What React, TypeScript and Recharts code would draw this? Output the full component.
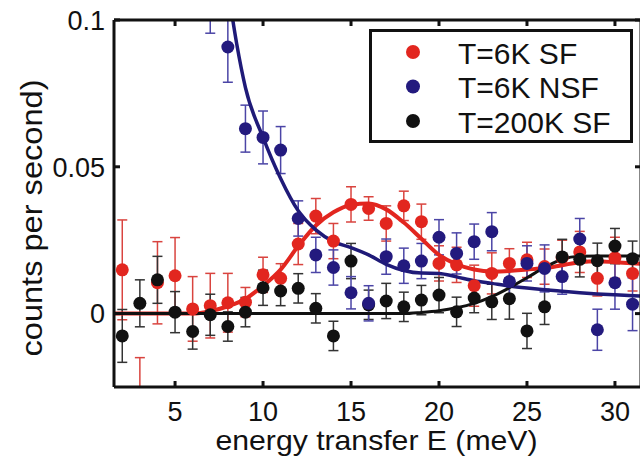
import { ComposedChart, Scatter, Line, XAxis, YAxis, ErrorBar } from "recharts";

const FONT = '"Liberation Sans", Arial, Helvetica, sans-serif';

// measured points (meV, counts/s)
const energy = [2, 3, 4, 5, 6, 7, 8, 9, 10, 11, 12, 13, 14, 15, 16, 17, 18, 19, 20, 21, 22, 23, 24, 25, 26, 27, 28, 29, 30, 31];

const sf6Value = [0.0149, -0.032, 0.0105, 0.0129, 0.0016, 0.0027, 0.0037, 0.0039, 0.0132, 0.012, 0.0237, 0.0332, 0.0247, 0.0372, 0.0358, 0.0307, 0.0367, 0.0313, 0.0171, 0.0166, 0.0095, 0.0137, 0.0171, 0.0183, 0.016, 0.019, 0.021, 0.012, 0.019, 0.0137];
const sf6Err = [0.017, 0.017, 0.014, 0.013, 0.011, 0.011, 0.01, 0.005, 0.006, 0.005, 0.007, 0.006, 0.006, 0.006, 0.004, 0.006, 0.005, 0.006, 0.006, 0.006, 0.007, 0.007, 0.005, 0.006, 0.006, 0.006, 0.007, 0.006, 0.007, 0.006];

const nsfEnergy = [7, 8, 9, 10, 11, 12, 13, 14, 15, 16, 17, 18, 19, 20, 21, 22, 23, 24, 25, 26, 27, 28, 29, 30, 31];
const nsfValue = [0.108, 0.0908, 0.063, 0.06, 0.0557, 0.0324, 0.02, 0.0157, 0.0071, 0.0035, 0.0194, 0.0163, 0.0179, 0.026, 0.0205, 0.0245, 0.0279, 0.0109, 0.0171, 0.0154, 0.0126, 0.0254, -0.0055, 0.0105, 0.0032];
const nsfErr = [0.0125, 0.012, 0.008, 0.009, 0.008, 0.006, 0.006, 0.006, 0.0055, 0.006, 0.006, 0.006, 0.006, 0.006, 0.007, 0.006, 0.0065, 0.006, 0.006, 0.008, 0.006, 0.007, 0.007, 0.009, 0.009];

const sf200Value = [-0.0076, 0.0035, 0.0115, 0.0005, -0.0061, -0.0004, -0.0044, 0.0005, 0.0088, 0.0077, 0.0086, 0.0018, -0.0076, 0.0179, 0.003, 0.0043, 0.0023, 0.0046, 0.0063, 0.0006, 0.0053, 0.004, 0.0051, -0.0059, 0.0023, 0.0193, 0.0185, 0.018, 0.023, 0.0187];
const sf200Err = [0.009, 0.008, 0.008, 0.007, 0.006, 0.007, 0.005, 0.005, 0.006, 0.005, 0.005, 0.005, 0.005, 0.006, 0.005, 0.006, 0.005, 0.005, 0.006, 0.005, 0.005, 0.006, 0.007, 0.006, 0.006, 0.006, 0.006, 0.006, 0.006, 0.006];

// fitted curves
const sf6FitE = [1.53, 6, 7, 8, 9, 10, 11, 12, 13, 14, 15, 16, 17, 18, 19, 20, 21, 22, 23, 24, 25, 26, 27, 28, 29, 30, 31.48];
const sf6FitV = [0, 0, 0.0008, 0.0025, 0.005, 0.0095, 0.015, 0.023, 0.03, 0.0345, 0.037, 0.0375, 0.0355, 0.031, 0.0255, 0.02, 0.0168, 0.015, 0.0143, 0.0145, 0.015, 0.0155, 0.0165, 0.0175, 0.0178, 0.0175, 0.017];

const nsfFitE = [8.15, 8.5, 9, 10, 11, 12, 13, 14, 15, 16, 17, 18, 19, 20, 21, 22, 23, 24, 25, 26, 27, 28, 29, 30, 31.48];
const nsfFitV = [0.105, 0.092, 0.077, 0.06, 0.046, 0.035, 0.0285, 0.0245, 0.0225, 0.02, 0.0168, 0.0147, 0.0138, 0.0137, 0.0125, 0.0112, 0.0103, 0.0094, 0.0087, 0.0081, 0.0076, 0.0071, 0.0067, 0.0064, 0.006];

const sf200FitE = [1.53, 18, 19, 20, 21, 22, 23, 24, 25, 26, 27, 28, 29, 31.48];
const sf200FitV = [0, 0, 0.0004, 0.001, 0.002, 0.0035, 0.0058, 0.0088, 0.0122, 0.0157, 0.0185, 0.0195, 0.0196, 0.0196];

const xTicks = [5, 10, 15, 20, 25, 30];
const yTicks = [0, 0.05, 0.1];
const yTickLabels = ["0", "0.05", "0.1"];

const seriesNames = ["T=6K SF", "T=6K NSF", "T=200K SF"];
const markerColors = ["#e2261f", "#231a7e", "#111111"];
const barColors = ["#d9443f", "#4b45a6", "#333333"];
const lineColors = ["#e2261f", "#1f1a78", "#111111"];

const toPoints = (xs: number[], ys: number[], es?: number[]) =>
  xs.map((x, i) => ({ x, y: ys[i], err: es ? es[i] : 0 }));

const sf6 = toPoints(energy, sf6Value, sf6Err);
const nsf = toPoints(nsfEnergy, nsfValue, nsfErr);
const sf200 = toPoints(energy, sf200Value, sf200Err);
const sf6Fit = toPoints(sf6FitE, sf6FitV);
const nsfFit = toPoints(nsfFitE, nsfFitV);
const sf200Fit = toPoints(sf200FitE, sf200FitV);

const dot = (color: string) => (p: any) =>
  p.cx == null ? <g /> : <circle cx={p.cx} cy={p.cy} r={6.5} fill={color} />;

const LeftTick = ({ x, y, payload }: any) => (
  <g>
    <line x1={x} x2={x + 6} y1={y} y2={y} stroke="#111" strokeWidth={3} />
    <text x={x - 9} y={y} dy="0.36em" textAnchor="end" fontSize={27} fill="#111" fontFamily={FONT}>
      {yTickLabels[yTicks.indexOf(payload.value)]}
    </text>
  </g>
);
const RightTick = ({ x, y }: any) => (
  <line x1={x} x2={x - 6} y1={y} y2={y} stroke="#111" strokeWidth={3} />
);
const BottomTick = ({ x, y, payload }: any) => (
  <g>
    <line x1={x} x2={x} y1={y} y2={y - 6} stroke="#111" strokeWidth={3} />
    <text x={x} y={y + 34} textAnchor="middle" fontSize={27} fill="#111" fontFamily={FONT}>
      {payload.value}
    </text>
  </g>
);
const TopTick = ({ x, y }: any) => (
  <line x1={x} x2={x} y1={y} y2={y + 6} stroke="#111" strokeWidth={3} />
);

const XTitle = ({ viewBox }: any) => (
  <text x={viewBox.x + viewBox.width / 2 - 1} y={viewBox.y + 63} textAnchor="middle" fontSize={28} fill="#111" fontFamily={FONT} textLength={322} lengthAdjust="spacingAndGlyphs">
    energy transfer E (meV)
  </text>
);
const YTitle = () => (
  <text x={42} y={218} transform="rotate(-90, 42, 218)" textAnchor="middle" fontSize={29} fill="#111" fontFamily={FONT} textLength={277} lengthAdjust="spacingAndGlyphs">
    counts per second)
  </text>
);

const axisLine = { stroke: "#111", strokeWidth: 3 };

// keep series, fits and error bars inside the plot frame
const clipCss = `.recharts-line, .recharts-scatter, .recharts-errorBars, .recharts-errorBar { clip-path: url(#plotFrame); }`;

export default function App() {
  return (
    <div style={{ position: "absolute", left: 0, top: 0, width: 640, height: 464, overflow: "hidden", background: "#fff" }}>
      <style>{clipCss}</style>
      <svg width={0} height={0} style={{ position: "absolute" }}>
        <defs>
          <clipPath id="plotFrame" clipPathUnits="userSpaceOnUse">
            <rect x={114} y={20} width={527} height={367} />
          </clipPath>
        </defs>
      </svg>
      <ComposedChart width={651} height={464} margin={{ top: 0, right: 0, bottom: 0, left: 0 }}>
        <XAxis xAxisId="b" type="number" dataKey="x" domain={[1.53, 31.48]} allowDataOverflow ticks={xTicks} interval={0} height={77} tickSize={0} tickMargin={0} tickLine={false} axisLine={axisLine} tick={BottomTick} label={<XTitle />} />
        <XAxis xAxisId="t" orientation="top" type="number" dataKey="x" domain={[1.53, 31.48]} allowDataOverflow ticks={xTicks} interval={0} height={20} tickSize={0} tickMargin={0} tickLine={false} axisLine={axisLine} tick={TopTick} />
        <YAxis yAxisId="l" type="number" dataKey="y" domain={[-0.025, 0.1]} allowDataOverflow ticks={yTicks} interval={0} width={114} tickSize={0} tickMargin={0} tickLine={false} axisLine={axisLine} tick={LeftTick} label={<YTitle />} />
        <YAxis yAxisId="r" orientation="right" type="number" dataKey="y" domain={[-0.025, 0.1]} allowDataOverflow ticks={yTicks} interval={0} width={10} tickSize={0} tickMargin={0} tickLine={false} axisLine={axisLine} tick={RightTick} />

        <Scatter name={seriesNames[0]} data={sf6} xAxisId="b" yAxisId="l" shape={dot(markerColors[0])} isAnimationActive={false}>
          <ErrorBar dataKey="err" direction="y" width={5} stroke={barColors[0]} strokeWidth={1.5} isAnimationActive={false} />
        </Scatter>
        <Scatter name={seriesNames[2]} data={sf200} xAxisId="b" yAxisId="l" shape={dot(markerColors[2])} isAnimationActive={false}>
          <ErrorBar dataKey="err" direction="y" width={5} stroke={barColors[2]} strokeWidth={1.5} isAnimationActive={false} />
        </Scatter>
        <Scatter name={seriesNames[1]} data={nsf} xAxisId="b" yAxisId="l" shape={dot(markerColors[1])} isAnimationActive={false}>
          <ErrorBar dataKey="err" direction="y" width={5} stroke={barColors[1]} strokeWidth={1.5} isAnimationActive={false} />
        </Scatter>

        <Line data={sf6Fit} dataKey="y" xAxisId="b" yAxisId="l" type="monotone" stroke={lineColors[0]} strokeWidth={4} dot={false} activeDot={false} legendType="none" isAnimationActive={false} />
        <Line data={nsfFit} dataKey="y" xAxisId="b" yAxisId="l" type="monotone" stroke={lineColors[1]} strokeWidth={3.5} dot={false} activeDot={false} legendType="none" isAnimationActive={false} />
        <Line data={sf200Fit} dataKey="y" xAxisId="b" yAxisId="l" type="monotone" stroke={lineColors[2]} strokeWidth={3} dot={false} activeDot={false} legendType="none" isAnimationActive={false} />
      </ComposedChart>

      <svg width={264} height={114} style={{ position: "absolute", left: 369, top: 29 }}>
        <rect x={1.5} y={1.5} width={261} height={111} fill="#fff" stroke="#111" strokeWidth={3} />
        {seriesNames.map((name, i) => (
          <g key={name}>
            <circle cx={44} cy={23 + i * 34.5} r={7} fill={markerColors[i]} />
            <text x={89} y={34.5 + i * 34.5} fontSize={30} fill="#111" fontFamily={FONT}>
              {name}
            </text>
          </g>
        ))}
      </svg>
    </div>
  );
}
